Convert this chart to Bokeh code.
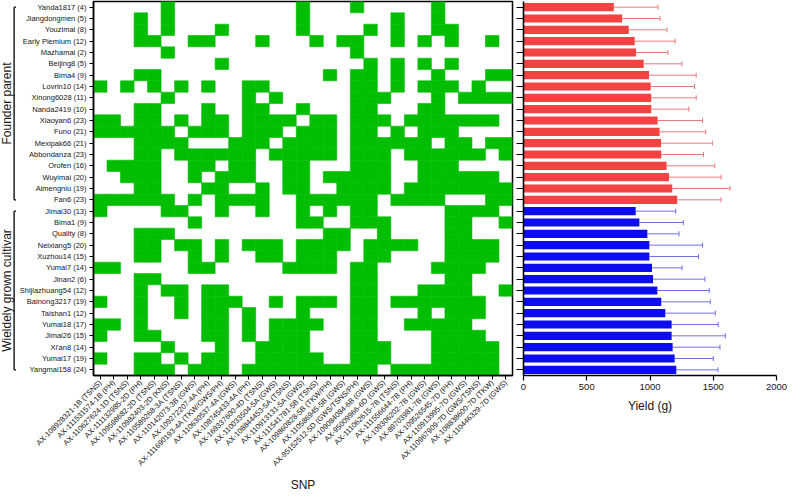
import math
from bokeh.plotting import figure
from bokeh.layouts import row
from bokeh.models import ColumnDataSource, FactorRange, Range1d, FixedTicker, Whisker, TeeHead
from bokeh.embed import file_html
from bokeh.resources import INLINE
from bokeh.core.properties import value

# ---------------- data ----------------
cultivars = ["Yanda1817", "Jiangdongmen", "Youzimai", "Early Piemium", "Mazhamai", "Beijing8",
             "Bima4", "Lovrin10", "Xinong6028", "Nanda2419", "Xiaoyan6", "Funo", "Mexipak66",
             "Abbondanza", "Orofen", "Wuyimai", "Aimengniu", "Fan6",
             "Jimai30", "Bima1", "Quality", "Neixiang5", "Xuzhou14", "Yumai7", "Jinan2",
             "Shijiazhuang54", "Bainong3217", "Taishan1", "Yumai18", "Jimai26", "Xi'an8",
             "Yumai17", "Yangmai158"]
allele_counts = [4, 5, 8, 12, 2, 5, 9, 14, 11, 10, 23, 21, 21, 23, 16, 20, 19, 23,
                 13, 9, 8, 20, 15, 14, 6, 12, 19, 12, 17, 15, 14, 19, 24]

group_names = ["Founder parent", "Wieldely grown cultivar"]
group_sizes = [18, 15]
group_bar_colors = ["#f24242", "#0c0cee"]
group_err_colors = ["#e77b7b", "#6f6fe6"]

snps = ["AX-108928321-1B (TSNS)", "AX-111531574-1B (PH)", "AX-110627624-1D (TSNS)",
        "AX-111132985-2D (PH)", "AX-109598682-2D (TSNS)", "AX-110982403-2D (KNS)",
        "AX-110589268-3A (TSNS)", "AX-110142073-3B (GWS)", "AX-109272207-4A (PH)",
        "AX-111690193-4A (TKW/GWS/PH)", "AX-110630537-4A (GWS)", "AX-108745433-4A (PH)",
        "AX-169337600-4D (TSNS)", "AX-110033504-5A (GWS)", "AX-108844453-5A (TSNS)",
        "AX-110913131-5A (GWS)", "AX-111541781-5B (TSNS)", "AX-109860828-5B (TKW/PH)",
        "AX-110586945-5B (GWS)", "AX-95152512-5D (GWS/TSNS/PH)", "AX-109084084-6B (GWS)",
        "AX-95009966-6D (GWS)", "AX-111062615-7B (TSNS)", "AX-111556644-7B (PH)",
        "AX-109306202-7B (GWS)", "AX-89703981-7B (GWS)", "AX-109526545-7D (PH)",
        "AX-110913995-7D (GWS)", "AX-110967909-7D (GWS/TSNS)", "AX-108838600-7D (TKW)",
        "AX-110446329-7D (GWS)"]

# favourable allele present (1) / absent (0), one string per cultivar, one char per SNP
allele_matrix = [
    "0000010000000001000100000100000",
    "0001010000000001000000100100000",
    "0001010001000001000010100110000",
    "0001100110001000101100101010010",
    "0000010000000000000100000000000",
    "0000000001000000000010101010000",
    "0001100000000000010110100100011",
    "1010101010011000000110101110100",
    "0000010000010100000111000101111",
    "0001100010011001000110001100000",
    "1101101011011110110111011111110",
    "1111110111011101110110101110000",
    "0001111000111011110111111011011",
    "0001101111110111110111011111101",
    "0111100110110011000111001110000",
    "0011100101110011011111001111110",
    "0001100011001011001111011111111",
    "1111110101111001111110111100011",
    "1000011001001001010110000011110",
    "0000000100000001100111000011001",
    "0001110000000000011001000011000",
    "0001101101011101111011110011110",
    "0001100101001101110011000011110",
    "1100000110000011110110000111100",
    "0001100000000000000110000011000",
    "0001011011000000000110001111001",
    "1001001011100101110110111111100",
    "0001001011010001000110001011100",
    "1101000011010111100110011111000",
    "1001100011010111000110000111100",
    "0000010001001111000111000111110",
    "1001101011001111100111000111110",
    "0001110111011111111110111111110",
]

yield_mean = [714, 780, 832, 879, 890, 950, 992, 1005, 1010, 1010, 1060, 1076, 1087, 1089,
              1131, 1150, 1176, 1215,
              887, 916, 979, 995, 995, 1016, 1024, 1058, 1089, 1121, 1171, 1171, 1179,
              1195, 1208]
yield_sd = [349, 299, 302, 320, 252, 302, 373, 347, 355, 297, 355, 365, 406, 334,
            381, 412, 457, 347,
            316, 347, 250, 421, 389, 237, 410, 410, 387, 395, 368, 424, 374,
            305, 329]

yield_ticks = [0, 500, 1000, 1500, 2000]

# ---------------- derived ----------------
labels = [f"{c} ({n})" for c, n in zip(cultivars, allele_counts)]
n_rows = len(labels)
group_of_row = []
for g, size in enumerate(group_sizes):
    group_of_row += [g] * size

FONT = "Liberation Sans"
GREEN = "#02be02"
TXT = "#151515"
FH = 374  # frame height shared by all panels

# ---------------- bracket panel ----------------
br = figure(x_range=Range1d(0, 1), y_range=Range1d(n_rows - 0.5, -0.5),
            frame_width=16, frame_height=FH, min_border_left=0, min_border_right=0,
            min_border_top=1, min_border_bottom=0, x_axis_location=None, y_axis_location=None,
            output_backend="svg", toolbar_location=None, tools="")
br.outline_line_color = None
br.grid.visible = False
starts, ends = [], []
s = 0
for size in group_sizes:
    starts.append(s)
    ends.append(s + size - 1)
    s += size
vx = 0.85
br.segment(x0=[vx] * len(starts), y0=starts, x1=[vx] * len(starts), y1=ends,
           line_color="black", line_width=1.3)
br.segment(x0=[vx] * (2 * len(starts)), y0=starts + ends, x1=[1.0] * (2 * len(starts)),
           y1=starts + ends, line_color="black", line_width=1.3)
br.text(x=[0.42] * len(group_names), y=[(a + b) / 2 for a, b in zip(starts, ends)],
        text=group_names, angle=math.pi / 2, text_align="center", text_baseline="middle",
        text_font=value(FONT), text_font_size="12px", text_color=TXT)

# ---------------- heatmap panel ----------------
hm = figure(x_range=FactorRange(factors=snps), y_range=FactorRange(factors=labels[::-1]),
            frame_width=419, frame_height=FH, min_border_left=74, min_border_right=3,
            min_border_top=1, min_border_bottom=0,
            output_backend="svg", toolbar_location=None, tools="")
xs, ys = [], []
for r, bits in enumerate(allele_matrix):
    for c, b in enumerate(bits):
        if b == "1":
            xs.append(snps[c])
            ys.append(labels[r])
hm.rect(x=xs, y=ys, width=1, height=1, fill_color=GREEN, line_color=GREEN, line_width=0.6)
hm.grid.visible = False
hm.outline_line_color = "black"
hm.outline_line_width = 1.5
for ax in (hm.xaxis[0], hm.yaxis[0]):
    ax.axis_line_color = "black"
    ax.axis_line_width = 1.5
    ax.major_tick_line_color = "black"
    ax.major_tick_line_width = 1
    ax.major_tick_in = 0
    ax.major_tick_out = 4
    ax.major_label_text_font = FONT
    ax.major_label_text_color = TXT
hm.yaxis.major_label_text_font_size = "7.5px"
hm.yaxis.major_label_standoff = 3
hm.xaxis.major_label_text_font_size = "7.5px"
hm.xaxis.major_label_orientation = math.pi / 4
hm.xaxis.major_label_standoff = 2
hm.xaxis.axis_label = "SNP"
hm.xaxis.axis_label_text_font = FONT
hm.xaxis.axis_label_text_font_size = "12px"
hm.xaxis.axis_label_text_font_style = "normal"
hm.xaxis.axis_label_text_color = TXT
hm.xaxis.axis_label_standoff = 4

# ---------------- bar panel ----------------
bar = figure(x_range=Range1d(yield_ticks[0], yield_ticks[-1]), y_range=Range1d(n_rows - 0.5, -0.5),
             frame_width=253, frame_height=FH, min_border_left=8, min_border_right=12,
             min_border_top=1, min_border_bottom=0,
             output_backend="svg", toolbar_location=None, tools="")
bar.grid.visible = False
bar.outline_line_color = None
for g in range(len(group_sizes)):
    idx = [i for i in range(n_rows) if group_of_row[i] == g]
    src = ColumnDataSource(dict(
        y=idx,
        mean=[yield_mean[i] for i in idx],
        upper=[yield_mean[i] + yield_sd[i] for i in idx],
    ))
    bar.hbar(y="y", left=0, right="mean", height=0.72, source=src,
             fill_color=group_bar_colors[g], line_color=None)
    bar.add_layout(Whisker(source=src, base="y", lower="mean", upper="upper", dimension="width",
                           line_color=group_err_colors[g], line_width=1,
                           lower_head=None,
                           upper_head=TeeHead(size=5, line_color=group_err_colors[g], line_width=1)))
bar.yaxis.ticker = FixedTicker(ticks=list(range(n_rows)))
bar.yaxis.major_label_text_font_size = "1px"
bar.yaxis.major_label_text_color = None
bar.yaxis.major_label_standoff = 0
bar.yaxis.minor_tick_line_color = None
bar.yaxis.major_tick_in = 0
bar.yaxis.major_tick_out = 7
bar.xaxis.ticker = FixedTicker(ticks=yield_ticks)
bar.xaxis.minor_tick_line_color = None
bar.xaxis.major_tick_in = 0
bar.xaxis.major_tick_out = 5
bar.xaxis.major_label_text_font = FONT
bar.xaxis.major_label_text_font_size = "9.5px"
bar.xaxis.major_label_text_color = TXT
bar.xaxis.major_label_standoff = 3
bar.xaxis.axis_label = "Yield (g)"
bar.xaxis.axis_label_text_font = FONT
bar.xaxis.axis_label_text_font_size = "12px"
bar.xaxis.axis_label_text_font_style = "normal"
bar.xaxis.axis_label_text_color = TXT
bar.xaxis.axis_label_standoff = 6
for ax in (bar.xaxis[0], bar.yaxis[0]):
    ax.axis_line_color = "black"
    ax.axis_line_width = 1.6
    ax.major_tick_line_color = "black"
    ax.major_tick_line_width = 1.2

layout = row(br, hm, bar)
open("out.html", "w").write(file_html(layout, INLINE))
